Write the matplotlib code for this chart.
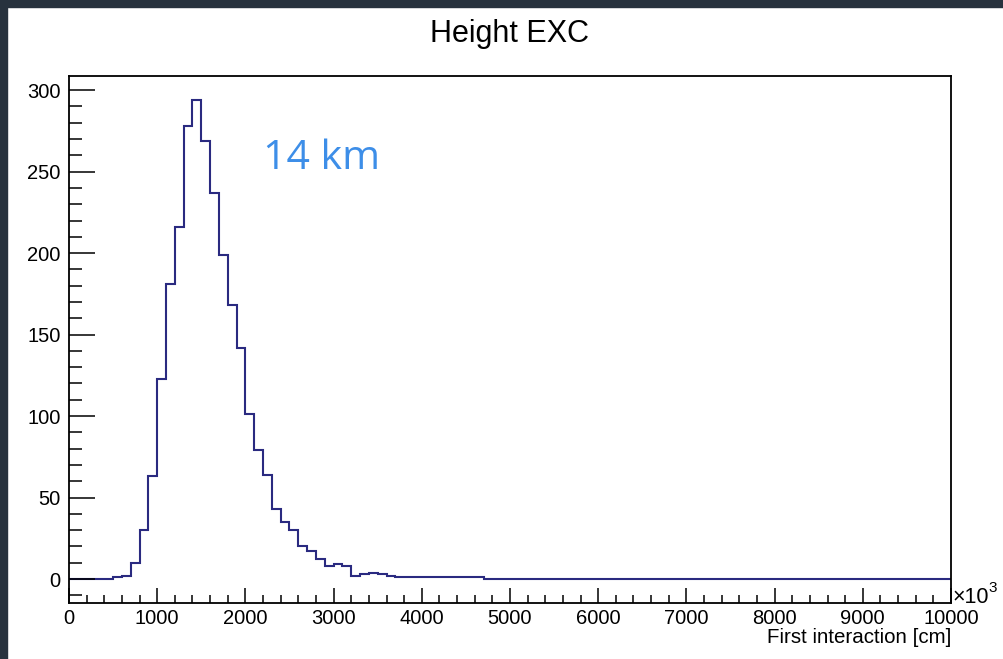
import numpy as np
import matplotlib
matplotlib.use("Agg")
import matplotlib.pyplot as plt
from matplotlib.patches import Rectangle
from matplotlib.ticker import MultipleLocator

# Histogram of first-interaction heights, 100 bins of 100 units on [0, 10000]
bin_edges = np.arange(0, 10001, 100)
counts = [
    0, 0, 0, 0, 0, 1, 2, 10, 30, 63,
    123, 181, 216, 278, 294, 269, 237, 199, 168, 142,
    101, 79, 64, 43, 35, 30, 20, 17, 12, 8,
    9, 8, 2, 3, 4, 3, 2, 1, 1, 1,
    1, 1, 1, 1, 1, 1, 1, 0, 0, 0,
] + [0] * 50

title = "Height EXC"
x_label = "First interaction [cm]"
annotation = "14 km"

W, H = 1004, 659
fig = plt.figure(figsize=(W / 100, H / 100), dpi=100)
fig.patch.set_facecolor("white")

# dark strips along the top and left edges
edge_col = "#27323e"
fig.add_artist(Rectangle((0, 1 - 7 / H), 1, 7 / H, transform=fig.transFigure,
                         color=edge_col, zorder=0))
fig.add_artist(Rectangle((0, 0), 7 / W, 1, transform=fig.transFigure,
                         color=edge_col, zorder=0))

x0, x1, y0, y1 = 69, 951, 76, 603
ax = fig.add_axes([x0 / W, 1 - y1 / H, (x1 - x0) / W, (y1 - y0) / H])

ax.stairs(counts, bin_edges, color="#2a2a80", linewidth=1.5, baseline=None)

ymax = max(counts)
ax.set_xlim(0, 10000)
ax.set_ylim(-0.05 * ymax, 1.05 * ymax)

font = "Liberation Sans"
ax.xaxis.set_major_locator(MultipleLocator(1000))
ax.xaxis.set_minor_locator(MultipleLocator(200))
ax.yaxis.set_major_locator(MultipleLocator(50))
ax.yaxis.set_minor_locator(MultipleLocator(10))

ax.tick_params(axis="y", which="major", direction="in", length=18.7, width=1.1,
               pad=6, labelsize=14.5, colors="black")
ax.tick_params(axis="y", which="minor", direction="in", length=9.4, width=1.1)
ax.tick_params(axis="x", which="major", direction="in", length=10.8, width=1.1,
               pad=4.5, labelsize=14.5)
ax.tick_params(axis="x", which="minor", direction="in", length=5.8, width=1.1)
for lab in ax.get_xticklabels() + ax.get_yticklabels():
    lab.set_fontfamily(font)

for side in ["left", "bottom", "top", "right"]:
    ax.spines[side].set_linewidth(1.3)
    ax.spines[side].set_color("black")

# title, axis label, exponent marker
fig.text(510 / W, 1 - 42 / H, title, ha="center", va="baseline",
         fontsize=22, family=font)
fig.text(951 / W, 1 - 643 / H, x_label, ha="right", va="baseline",
         fontsize=14.8, family=font)
fig.text(953 / W, 1 - 603 / H, "×10", ha="left", va="baseline",
         fontsize=15.5, family=font)
fig.text(988 / W, 1 - 592 / H, "3", ha="left", va="baseline",
         fontsize=11, family=font)

# annotation
ax.text(263 / W, 1 - 169 / H, annotation, transform=fig.transFigure,
        ha="left", va="baseline", fontsize=29.5, family="Open Sans",
        color="#3d8ee8")

fig.savefig("out.png", dpi=100, facecolor=fig.get_facecolor())
